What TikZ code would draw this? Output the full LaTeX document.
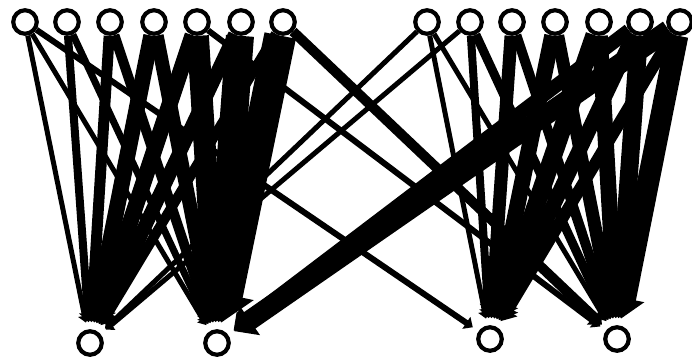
\documentclass[tikz,border=0pt]{standalone}
\usetikzlibrary{arrows.meta}
\pgfdeclarelayer{bg}
\pgfsetlayers{bg,main}
\begin{document}
\begin{tikzpicture}[x=1pt,y=-1pt,
  vtx/.style={circle,draw,line width=4.2pt,minimum size=23.5pt,inner sep=0pt,fill=white},
  flow/.style={line width=#1, -{Triangle[length=3pt 0.8, width=5pt 1.5]}, shorten >=7pt}]
\useasboundingbox (0,0) rectangle (692,362);
% top row, left group
\foreach \n/\x in {L1/25,L2/67,L3/110,L4/154,L5/197,L6/241,L7/283}
  \node[vtx] (\n) at (\x,22) {};
% top row, right group
\foreach \n/\x in {R1/427,R2/470,R3/512,R4/555,R5/599,R6/640,R7/680}
  \node[vtx] (\n) at (\x,22) {};
% bottom row
\node[vtx] (B1) at (90,343) {};
\node[vtx] (B2) at (217,343) {};
\node[vtx] (B3) at (490,339) {};
\node[vtx] (B4) at (617,339) {};
\begin{pgfonlayer}{bg}
\foreach \a/\b/\w in {
  L1/B1/5, L1/B2/5, L1/B3/6,
  L2/B1/8, L2/B2/7,
  L3/B1/11, L3/B2/10,
  L4/B1/16, L4/B2/14,
  L5/B1/16, L5/B2/22, L5/B4/6,
  L6/B1/14, L6/B2/28,
  L7/B1/10, L7/B2/32, L7/B4/10,
  R1/B1/5, R1/B3/5, R1/B4/5,
  R2/B1/5, R2/B3/8, R2/B4/9,
  R3/B3/13, R3/B4/10,
  R4/B3/16, R4/B4/13,
  R5/B3/18, R5/B4/16,
  R6/B3/15, R6/B4/18, R6/B2/14,
  R7/B3/12, R7/B4/22, R7/B2/20}
  \draw[flow=\w pt] (\a) -- (\b);
\end{pgfonlayer}
\end{tikzpicture}
\end{document}
